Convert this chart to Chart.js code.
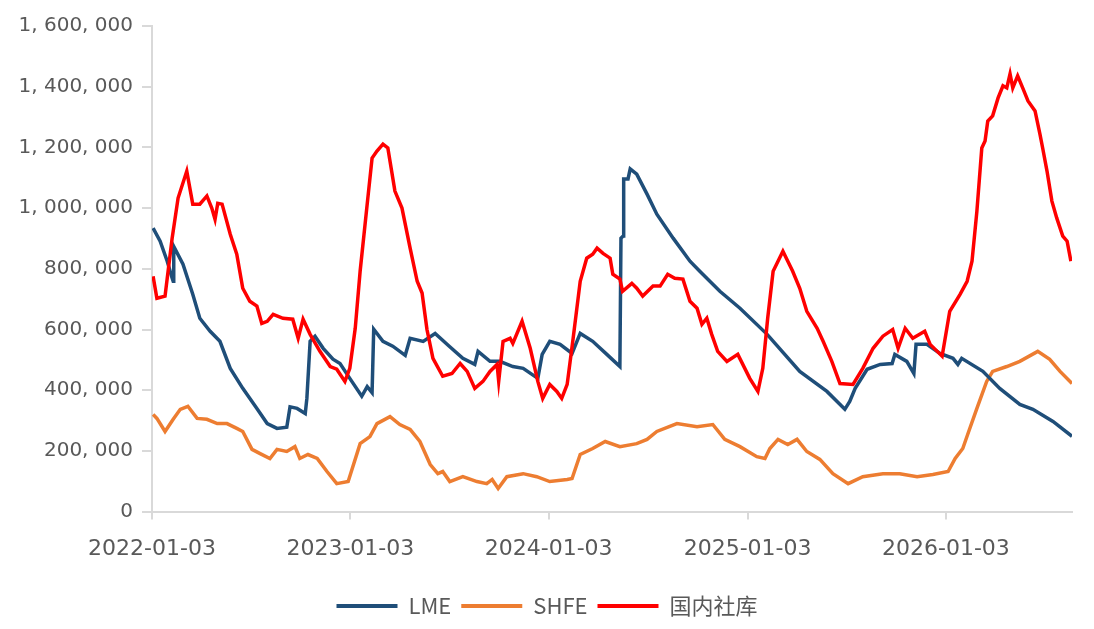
<!DOCTYPE html>
<html>
<head>
<meta charset="utf-8">
<script src="https://cdn.jsdelivr.net/npm/chart.js@4/dist/chart.umd.min.js"></script>
<style>
  html, body { margin: 0; padding: 0; background: #ffffff; }
  #wrap { width: 1094px; height: 629px; }
</style>
</head>
<body>
<div id="wrap"><canvas id="c" width="1094" height="629"></canvas></div>
<script>
// X positions are day offsets from 2022-01-03
const xTickDays = [0, 365, 730, 1096, 1461];
const xTickLabels = ['2022-01-03', '2023-01-03', '2024-01-03', '2025-01-03', '2026-01-03'];
const seriesNames = ['LME', 'SHFE', '国内社库'];

const lmeDays = [2,15,28,37,39,40, 57,75,88,107,125,144, 167,193,212,230,248,254, 267,282,285,291,300,315,
  333,346,364,386,396,405, 408,425,443,466,475,499, 521,548,572,594,600,622, 640,664,683,710,718,732,
  751,773,788,811,837,861, 863,867,868,876,880,892, 911,929,959,990,1008,1045, 1082,1132,1192,1242,1275,1284,
  1294,1316,1340,1362,1367,1389, 1402,1406,1426,1450,1474,1483, 1490,1529,1560,1597,1621,1658, 1693];
const lmeValues = [934000,891000,825000,770000,759000,874000, 815000,716000,637000,594000,561000,472000,
  406000,340000,290000,274000,278000,345000, 340000,323000,373000,561000,578000,538000,
  502000,488000,439000,380000,412000,392000, 601000,561000,545000,515000,571000,561000,
  587000,543000,505000,485000,528000,495000, 495000,478000,472000,439000,518000,561000,
  551000,521000,587000,561000,518000,478000, 901000,908000,1096000,1096000,1129000,1112000,
  1046000,980000,901000,825000,792000,726000, 670000,584000,462000,396000,337000,363000,
  406000,469000,485000,488000,518000,495000, 455000,551000,551000,521000,505000,485000,
  505000,462000,406000,353000,337000,297000, 248000];

const shfeDays = [2,9,24,39,52,66, 83,101,120,138,156,167, 184,199,217,230,248,263, 272,287,304,322,340,361,
  383,401,414,438,456,475, 493,512,526,535,548,572, 598,616,626,637,653,683, 708,732,764,773,788,811,
  834,861,892,911,929,966, 1003,1032,1054,1082,1113,1128, 1137,1152,1170,1187,1205,1229,
  1253,1281,1308,1345,1376,1408, 1437,1465,1478,1492,1501,1518, 1536,1547,1573,1597,1630,1652, 1671,1693];
const shfeValues = [320000,307000,264000,304000,337000,347000, 307000,304000,290000,290000,274000,264000,
  205000,191000,175000,205000,198000,214000, 175000,188000,175000,132000,92000,99000,
  224000,247000,290000,313000,287000,271000, 231000,155000,125000,132000,99000,115000,
  99000,92000,106000,76000,115000,125000, 115000,99000,106000,109000,188000,208000,
  231000,214000,224000,238000,264000,290000, 280000,287000,238000,214000,181000,175000,
  208000,238000,221000,238000,198000,172000, 125000,92000,115000,125000,125000,115000,
  122000,132000,175000,208000,254000,340000, 429000,462000,478000,495000,528000,502000, 462000,422000];

const socialDays = [2,9,24,37,48,64, 75,88,101,110,116,121, 129,144,156,167,180,193, 202,212,223,241,259,269,
  278,291,309,328,340,355, 364,374,383,396,405,414, 425,434,447,460,475,488, 497,506,517,535,552,567,
  580,594,609,622,635,638, 646,659,664,681,696,710, 719,732,745,754,764,775, 788,800,811,819,830,843,
  848,861,866,883,892,903, 922,935,949,962,977,990, 1003,1012,1021,1030,1041,1058, 1078,1100,1115,1124,1133,1143,
  1161,1179,1192,1205,1224,1235, 1251,1266,1290,1308,1327,1345, 1363,1373,1386,1400,1422,1432,
  1454,1468,1487,1500,1509,1518, 1527,1533,1538,1547,1557,1566, 1573,1579,1584,1593,1603,1612,
  1625,1634,1639,1647,1656,1665, 1676,1684,1691];
const socialValues = [775000,703000,710000,900000,1033000,1122000, 1013000,1013000,1040000,1000000,963000,1016000,
  1013000,914000,848000,736000,693000,677000, 620000,627000,650000,637000,634000,571000,
  634000,584000,528000,478000,469000,429000, 472000,604000,792000,1013000,1165000,1188000,
  1211000,1198000,1056000,1000000,868000,759000, 720000,600000,505000,446000,455000,488000,
  462000,406000,429000,462000,485000,429000, 561000,571000,554000,627000,538000,429000,
  373000,419000,396000,373000,419000,571000, 759000,835000,848000,868000,851000,835000,
  782000,766000,726000,752000,736000,710000, 743000,743000,782000,769000,766000,693000,
  670000,617000,637000,584000,528000,495000, 518000,439000,396000,472000,637000,792000,
  858000,792000,736000,660000,604000,561000, 495000,422000,419000,472000,538000,578000,
  600000,538000,604000,571000,594000,551000, 512000,660000,716000,759000,825000,990000,
  1198000,1221000,1287000,1304000,1363000,1403000, 1396000,1442000,1396000,1436000,1393000,1353000,
  1320000,1244000,1198000,1122000,1023000,967000, 908000,891000,825000];

const yMin = 0, yMax = 1600000, yStep = 200000;
const xMax = 1693;

const colors = ['#1f4e79', '#ed7d31', '#ff0000'];
const textColor = '#595959';
const axisColor = '#d9d9d9';

const toPoints = (days, vals) => days.map((d, i) => ({ x: d, y: vals[i] }));
const fmt = v => Math.round(v).toString().replace(/\B(?=(\d{3})+(?!\d))/g, ', ');

const mk = (i, days, vals, order) => ({
  label: seriesNames[i],
  data: toPoints(days, vals),
  borderColor: colors[i],
  backgroundColor: colors[i],
  borderWidth: 3.5,
  pointRadius: 0,
  tension: 0,
  order: order
});

new Chart(document.getElementById('c'), {
  type: 'line',
  data: {
    datasets: [
      mk(0, lmeDays, lmeValues, 2),
      mk(1, shfeDays, shfeValues, 3),
      mk(2, socialDays, socialValues, 1)
    ]
  },
  options: {
    responsive: false,
    animation: false,
    devicePixelRatio: 1,
    layout: { padding: { top: 26, right: 0, left: 0, bottom: 2 } },
    plugins: {
      tooltip: { enabled: false },
      legend: {
        position: 'bottom',
        labels: {
          boxWidth: 61,
          boxHeight: 4,
          padding: 10,
          color: textColor,
          font: { family: '"Noto Sans CJK SC", "Noto Sans", sans-serif', size: 22 },
          sort: (a, b) => a.datasetIndex - b.datasetIndex,
          generateLabels: (chart) => Chart.defaults.plugins.legend.labels.generateLabels(chart)
            .map(l => Object.assign(l, { lineWidth: 0 }))
        }
      }
    },
    scales: {
      x: {
        type: 'linear',
        min: 0,
        max: xMax,
        afterBuildTicks: (s) => { s.ticks = xTickDays.map(v => ({ value: v })); },
        afterFit: (s) => { s.height += 7; },
        ticks: {
          autoSkip: false,
          maxRotation: 0,
          padding: 16,
          color: textColor,
          font: { family: '"DejaVu Sans", sans-serif', size: 22 },
          callback: (v) => xTickLabels[xTickDays.indexOf(v)]
        },
        grid: { drawOnChartArea: false, tickLength: 8, color: axisColor, lineWidth: 2 },
        border: { color: axisColor, width: 2 }
      },
      y: {
        min: yMin,
        max: yMax,
        afterFit: (s) => { s.width = 152; },
        ticks: {
          stepSize: yStep,
          padding: 9,
          color: textColor,
          font: { family: '"DejaVu Sans", sans-serif', size: 20 },
          callback: (v) => fmt(v)
        },
        grid: { drawOnChartArea: false, tickLength: 10, color: axisColor, lineWidth: 2 },
        border: { color: axisColor, width: 2 }
      },
      yRightSpace: {
        position: 'right',
        display: true,
        min: yMin,
        max: yMax,
        afterFit: (s) => { s.width = 22; },
        ticks: { display: false },
        grid: { display: false },
        border: { display: false }
      }
    }
  }
});
</script>
</body>
</html>
